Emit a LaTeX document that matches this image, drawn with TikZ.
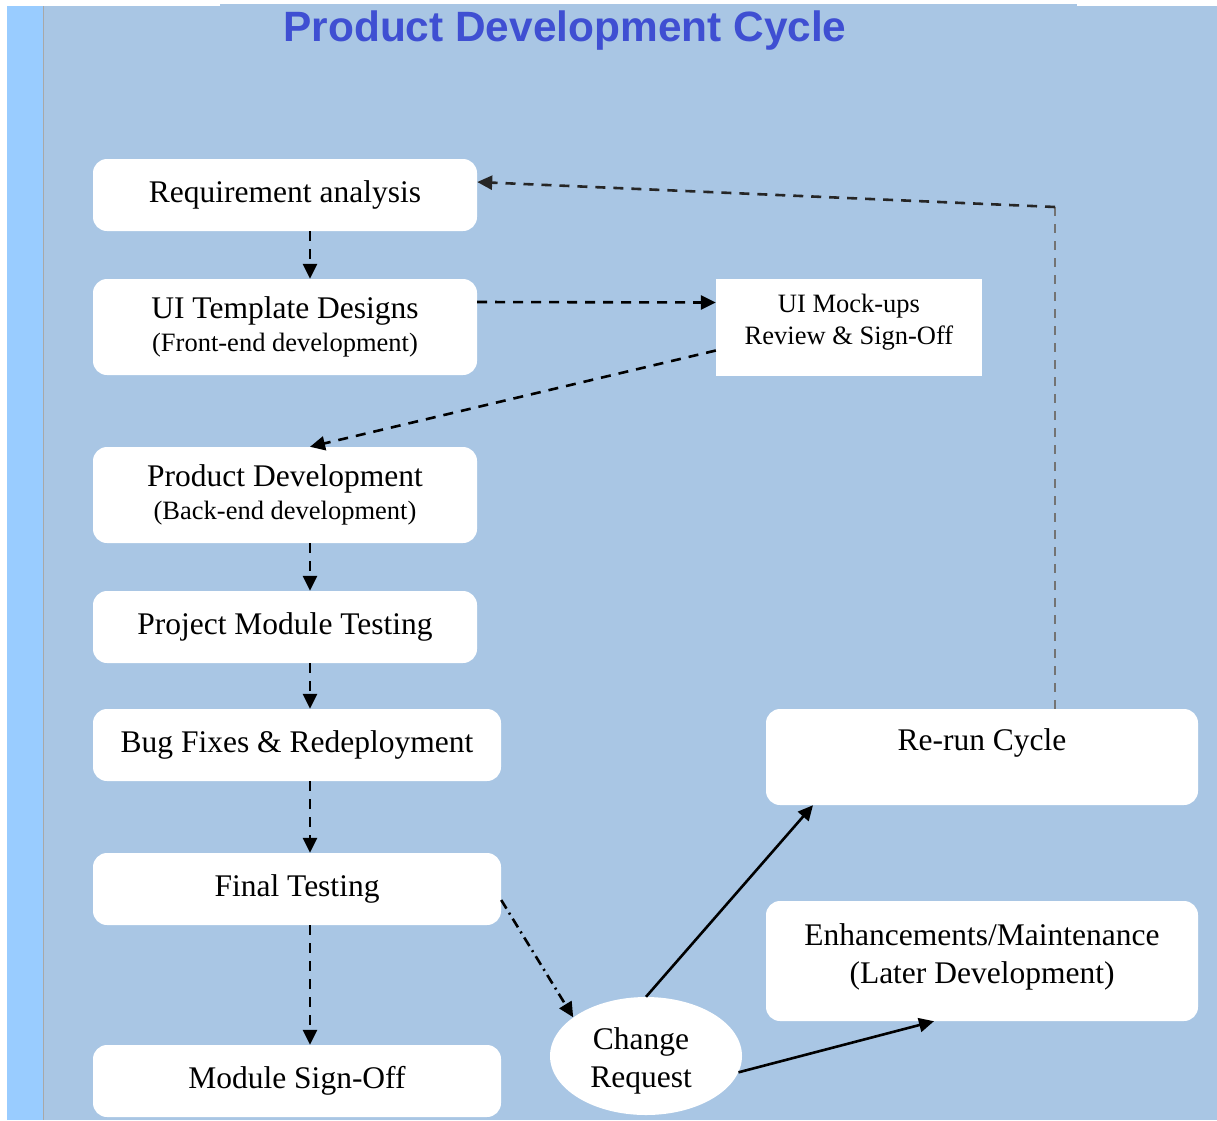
\documentclass[tikz,border=0pt]{standalone}
\usepackage{fontspec}
\setmainfont{Liberation Serif}
\newfontfamily\titlefont{Liberation Sans}
\usetikzlibrary{arrows.meta,shapes.geometric}
\definecolor{bgmain}{HTML}{A9C6E4}
\definecolor{bgstripe}{HTML}{99CCFF}
\definecolor{titleblue}{HTML}{3F4FD2}
\definecolor{stripeline}{HTML}{A8A8A8}
\tikzset{
  box/.style={fill=white, draw=none, rounded corners=14pt, inner sep=0pt, align=center,
    font=\fontsize{31.5}{38}\selectfont},
  sqbox/.style={fill=white, draw=none, inner sep=0pt, align=center,
    font=\fontsize{26.5}{32}\selectfont},
  oval/.style={ellipse, fill=white, draw=none, inner sep=0pt},
  ovaltext/.style={align=center, inner sep=0pt, font=\fontsize{31.5}{38}\selectfont},
  tip/.style={-{Triangle[length=15pt,width=14pt]}},
  dconn/.style={tip, line width=2.6pt, dash pattern=on 10pt off 8pt},
  ddconn/.style={tip, line width=2.6pt, dash pattern=on 10pt off 5pt on 2pt off 5pt},
  sconn/.style={tip, line width=2.6pt},
}
\newcommand{\subline}[1]{{\fontsize{26.5}{32}\selectfont #1}}
\begin{document}
\begin{tikzpicture}[x=1pt,y=-1pt]
\useasboundingbox (0,0) rectangle (1217,1120);
\fill[white] (0,0) rectangle (1217,1120);
\fill[bgstripe] (7,6) rectangle (44,1120);
\fill[bgmain] (44,6) rectangle (1217,1120);
\fill[bgmain] (220,4) rectangle (1077,6);
\draw[stripeline, line width=1pt] (43.5,6) -- (43.5,1120);

\node[font=\titlefont\bfseries\fontsize{42.4}{48}\selectfont, text=titleblue] (title) at (565,31) {Product Development Cycle};

\node[box, minimum width=384pt, minimum height=72pt] (req) at (285,195) {Requirement analysis};
\node[box, minimum width=384pt, minimum height=96pt] (uit) at (285,327) {UI Template Designs\\[-5pt]\subline{(Front-end development)}};
\node[sqbox, minimum width=266pt, minimum height=97pt] (mock) at (849,327.5) {UI Mock-ups\\Review \& Sign-Off\\[-26pt]\strut};
\node[box, minimum width=384pt, minimum height=96pt] (pd) at (285,495) {Product Development\\[-5pt]\subline{(Back-end development)}};
\node[box, minimum width=384pt, minimum height=72pt] (pmt) at (285,627) {Project Module Testing};
\node[box, minimum width=408pt, minimum height=72pt] (bug) at (297,745) {Bug Fixes \& Redeployment};
\node[box, minimum width=408pt, minimum height=72pt] (ft) at (297,889) {Final Testing};
\node[box, minimum width=408pt, minimum height=72pt] (mso) at (297,1081) {Module Sign-Off};
\node[box, minimum width=432pt, minimum height=96pt] (rerun) at (982,757) {Re-run Cycle\\[-14pt]\strut};
\node[box, minimum width=432pt, minimum height=120pt] (enh) at (982,961) {Enhancements/Maintenance\\(Later Development)\\[-34pt]\strut};
\node[oval, minimum width=192pt, minimum height=118pt] (cr) at (646,1056) {};
\node[ovaltext] (crtext) at (641,1061) {Change\\Request};

\coordinate (turn) at (1055,207);

\draw[dconn] ([xshift=25pt]req.south) -- ([xshift=25pt]uit.north);
\draw[dconn] ([yshift=25pt]uit.east) -- ([yshift=25pt]mock.west);
\draw[dconn] ([yshift=-23pt]mock.west) -- ([xshift=25pt]pd.north);
\draw[dconn] ([xshift=25pt]pd.south) -- ([xshift=25pt]pmt.north);
\draw[dconn] ([xshift=25pt]pmt.south) -- ([xshift=13pt]bug.north);
\draw[dconn] ([xshift=13pt]bug.south) -- ([xshift=13pt]ft.north);
\draw[dconn] ([xshift=13pt]ft.south) -- ([xshift=13pt]mso.north);
\draw[ddconn] ([yshift=-11pt]ft.east) -- (cr.152);
\draw[sconn] (cr.north) -- ([xshift=-169pt]rerun.south);
\draw[sconn] (cr.-10) -- ([xshift=-48pt]enh.south);
\draw[line width=2.2pt, draw=black!55, dash pattern=on 9pt off 8pt] ([xshift=73pt]rerun.north) -- (turn);
\draw[dconn, draw=black!85] (turn) -- ([yshift=13pt]req.east);
\end{tikzpicture}
\end{document}
